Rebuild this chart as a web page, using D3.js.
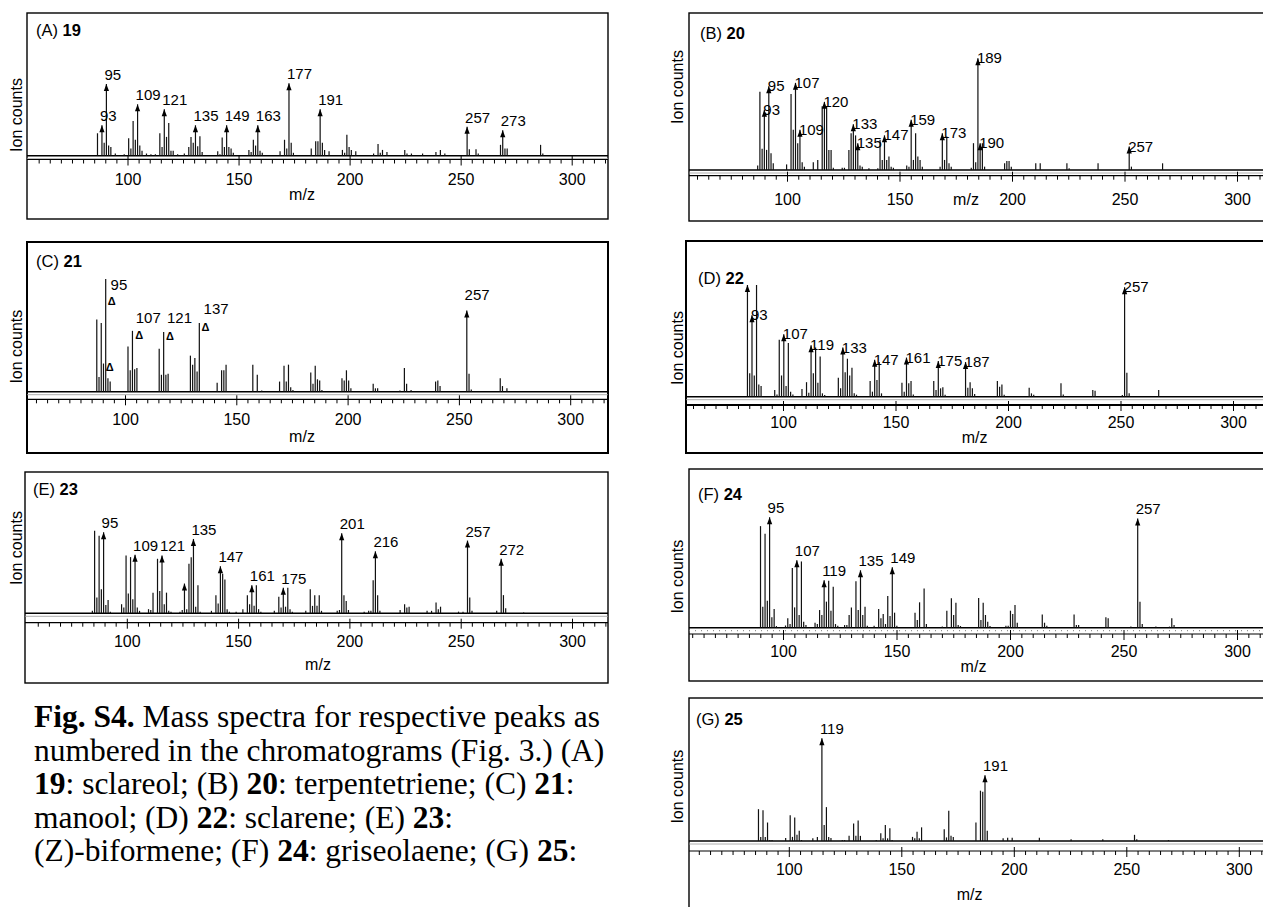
<!DOCTYPE html>
<html>
<head>
<meta charset="utf-8">
<script src="https://cdn.jsdelivr.net/npm/d3@7"></script>
<style>
  body { margin: 0; background: #fff; }
  svg { display: block; }
</style>
</head>
<body>
<div id="chart"></div>
<script>
// ---- data: [m/z, relative intensity %] ----
var peaksA = [[91,31],[93,42],[94,18],[95,99],[96,14],[97,12],[99,3],[103,2],[105,24],[106,10],[107,48],[108,22],[109,71],[110,14],[111,7],[113,3],[115,2],[117,2],[119,31],[120,12],[121,64],[122,26],[123,45],[124,7],[125,7],[127,2],[130,3],[132,12],[133,26],[134,18],[135,42],[136,13],[137,27],[138,5],[145,6],[146,2],[147,25],[148,12],[149,42],[150,12],[151,10],[152,4],[159,8],[160,5],[161,22],[162,14],[163,42],[164,7],[165,4],[173,6],[175,22],[176,10],[177,100],[178,18],[179,4],[187,10],[189,20],[190,20],[191,64],[192,18],[193,8],[195,6],[201,8],[202,4],[203,29],[204,12],[205,8],[207,6],[215,3],[217,16],[218,4],[219,8],[221,5],[229,8],[230,3],[232,3],[237,3],[243,5],[245,8],[247,3],[257,40],[258,9],[261,9],[262,3],[272,15],[273,35],[274,10],[275,10],[290,15],[291,3]];
var arrowsA = [93,95,109,121,135,149,163,177,191,257,273];

var peaksB = [[90,4],[91,70],[92,19],[93,54],[94,18],[95,75],[96,15],[97,6],[103,5],[105,68],[106,36],[107,78],[108,24],[109,36],[110,7],[111,3],[115,7],[117,9],[119,57],[120,61],[121,57],[122,18],[123,18],[124,2],[128,2],[129,2],[131,18],[132,33],[133,41],[134,31],[135,24],[136,4],[137,3],[140,1.5],[144,1.5],[145,27],[146,9],[147,31],[148,9],[149,12],[150,3],[151,2],[157,4],[158,3],[159,45],[160,9],[161,33],[162,12],[163,9],[164,3],[172,3],[173,33],[174,9],[175,30],[176,6],[177,3],[186,2],[187,24],[188,7],[189,100],[190,24],[191,24],[192,3],[201,6],[202,8],[203,8],[204,3],[215,6],[217,6],[229,6],[230,1.5],[243,6],[257,21],[258,3],[272,6]];
var arrowsB = [93,95,107,109,120,133,135,147,159,173,189,190,257];

var peaksC = [[91,64],[92,13],[93,61],[94,25],[95,100],[96,12],[97,9],[105,40],[106,19],[107,54],[108,20],[109,21],[119,38],[120,15],[121,53],[122,15],[123,16],[133,32],[134,24],[135,30],[136,18],[137,61],[145,8],[147,19],[148,19],[149,24],[161,24],[163,15],[165,1],[173,9],[175,23],[176,9],[177,24],[178,4],[179,1.5],[187,17],[188,7],[189,23],[190,11],[191,10],[192,1.5],[201,12],[202,10],[203,19],[204,10],[205,3],[215,7],[216,3],[217,3],[227,1],[229,21],[230,7],[232,1.5],[243,9],[244,10],[245,5],[257,72],[258,16],[259,2],[272,12],[273,5],[275,3]];
var arrowsC = [257];
var notesC = [[97.2,90,'95'],[108.5,61,'107'],[122.5,61,'121'],[138.9,69,'137'],[256,81,'257']];
var deltasC = [[97.7,80],[96.8,22],[110,50],[123.8,49],[139.7,57]];

var peaksD = [[91,100],[92,21],[93,73],[94,19],[95,100],[96,11],[97,9.5],[103,6],[104,2],[105,51],[106,19],[107,56],[108,9.5],[109,48],[110,4.5],[111,2],[115,7],[117,13],[118,3.6],[119,46],[120,21],[121,44],[122,12.5],[123,36],[124,3],[125,1.5],[131,17],[132,7.5],[133,44],[134,22],[135,34],[136,19],[137,26],[138,3],[139,1.8],[145,14],[146,4.5],[147,33],[148,15],[149,31],[150,3],[159,12.5],[160,4.5],[161,35],[162,12],[163,14],[164,2],[173,14],[174,6],[175,32],[176,7.5],[177,8.4],[178,1.8],[187,31],[188,8],[189,13],[190,7.5],[191,2.4],[201,14],[202,9],[203,11],[204,1.8],[215,8],[216,3],[217,1.8],[229,12],[230,2],[243,6],[244,5.4],[256,1.5],[257,98],[258,21.5],[259,3],[272,6]];
var arrowsD = [91,93,107,119,133,147,161,175,187,257];
var silentD = [91];

var peaksE = [[90,3],[91,100],[92,19],[93,94],[94,29],[95,98],[96,10],[97,16],[98,2],[103,11],[104,7],[105,70],[106,24],[107,68],[108,17],[109,71],[110,7],[111,3],[115,5],[116,4],[117,25],[119,66],[120,27],[121,70],[122,11],[123,25],[124,3],[125,2],[129,2],[130,4],[131,36],[132,5],[133,60],[134,68],[135,90],[136,8],[137,34],[138,2],[143,3],[145,22],[146,12],[147,57],[148,48],[149,41],[150,5],[151,2],[154,2],[157,5],[159,22],[160,11],[161,34],[162,9],[163,34],[164,5],[165,2],[171,3],[173,20],[174,7],[175,31],[176,8],[177,31],[178,5],[179,2],[185,3],[187,29],[188,9],[189,22],[190,9],[191,22],[192,3],[199,3],[200,4],[201,97],[202,22],[203,15],[204,4],[211,2],[213,3],[214,3],[215,40],[216,75],[217,22],[218,3],[227,4],[229,11],[230,7],[231,8],[239,3],[241,3],[243,13],[244,5],[245,8],[253,2],[255,2],[257,88],[258,19],[259,3],[270,3],[272,66],[273,22],[274,6],[282,1]];
var arrowsE = [95,109,121,131,135,147,161,175,201,216,257,272];
var silentE = [131];

var peaksF = [[91,92],[92,19],[93,85],[94,24.5],[95,100],[96,9.4],[97,17],[98,1.5],[102,2],[103,8.5],[104,3.3],[105,54],[106,18.4],[107,61],[108,11.5],[109,60],[110,5.4],[111,2.4],[115,4.5],[116,3.3],[117,16],[118,11.5],[119,43],[120,23.6],[121,42.6],[122,15.4],[123,37],[124,3.3],[125,1.8],[128,2.4],[129,2.4],[130,11.5],[131,18.4],[133,42],[134,16],[135,52],[136,11.5],[137,19],[138,1.8],[141,1.8],[143,17],[144,8.5],[145,12.4],[146,3.3],[147,28.7],[148,10.6],[149,54.7],[150,13.6],[151,1.8],[159,13.6],[160,7],[161,23],[163,35.6],[164,3.3],[171,1],[173,15.4],[175,26.6],[176,11.5],[177,22.7],[178,2.4],[179,1.5],[187,27],[188,7],[189,22.7],[190,11.5],[191,5.4],[192,1.5],[199,1.8],[200,1.8],[201,15.4],[202,12.4],[203,20.5],[204,4.5],[215,12],[216,4.5],[217,1.8],[229,12],[230,2.4],[231,2.4],[243,9.4],[244,8.5],[254,1],[257,99],[258,23.6],[259,3.3],[265,1],[271,1],[272,8.5],[273,2.4]];
var arrowsF = [95,107,119,135,149,257];

var peaksG = [[91,31],[92,4],[93,30],[94,4],[95,18],[96,1],[97,1],[103,3],[105,25],[106,4],[107,23],[108,6],[109,10],[110,1],[115,2.6],[117,4],[119,100],[120,15.6],[121,33],[122,4],[123,3],[128,1],[129,1],[131,5],[133,17],[134,5],[135,20],[136,5],[143,1],[145,7.5],[146,2.6],[147,15.6],[148,2.6],[149,12.3],[150,1],[159,4],[160,2.6],[161,9],[162,2.6],[163,13.3],[173,11.4],[174,3.5],[175,29.5],[176,5],[177,4],[187,18],[189,49],[190,48],[191,64],[192,10],[199,2.6],[201,3.2],[203,3.2],[215,3.2],[229,1.6],[243,1.6],[257,6],[258,1.6],[272,1]];
var arrowsG = [119,191];

var tickLabels = [100,150,200,250,300];
var captionLines = [
  [['Fig. S4.', 'b'], [' Mass spectra for respective peaks as', '']],
  [['numbered in the chromatograms (Fig. 3.) (A)', '']],
  [['19', 'b'], [': sclareol; (B) ', ''], ['20', 'b'], [': terpentetriene; (C) ', ''], ['21', 'b'], [':', '']],
  [['manool; (D) ', ''], ['22', 'b'], [': sclarene; (E) ', ''], ['23', 'b'], [':', '']],
  [['(Z)-biformene; (F) ', ''], ['24', 'b'], [': griseolaene; (G) ', ''], ['25', 'b'], [':', '']]
];

// ---- layout ----
var W = 1263, H = 907;
var SANS = 'Liberation Sans, Arial, sans-serif';

var panels = [
  {tag: 'A', num: '19', peaks: peaksA, arrows: arrowsA, style: 'above',
   box: [27, 13, 608, 219], base: 155.7, top: 83.3, axisY: 159.5, tickY: 185,
   ax: [127.5, 571.7], pk: [[95, 106.4], [257, 467.1]],
   title: [36, 36], ion: [16, 115], mz: [302, 200]},
  {tag: 'B', num: '20', peaks: peaksB, arrows: arrowsB, style: 'mid',
   box: [689, 13, 1275, 221], base: 170, top: 58.3, axisY: 175.7, tickY: 205,
   ax: [787, 1237], pk: [[95, 768.8], [257, 1129.2]],
   title: [700, 39], ion: [677, 87], mz: [966, 205]},
  {tag: 'C', num: '21', peaks: peaksC, arrows: arrowsC, style: 'none', bw: 2,
   notes: notesC, deltas: deltasC,
   box: [27, 242, 608, 453], base: 391.7, top: 279, axisY: 399.3, tickY: 425,
   ax: [125, 570.2], pk: [[95, 105.7], [257, 466.8]],
   title: [36, 267], ion: [16, 346.7], mz: [302, 441.7]},
  {tag: 'D', num: '22', peaks: peaksD, arrows: arrowsD, silent: silentD, style: 'mid', bw: 2, aw: 2.2,
   box: [686, 241, 1275, 453], base: 396.7, top: 285, axisY: 405, tickY: 428.3,
   ax: [783, 1233], pk: [[107, 783.8], [257, 1124.6]],
   title: [698, 284], ion: [677, 348], mz: [974.6, 443.3]},
  {tag: 'E', num: '23', peaks: peaksE, arrows: arrowsE, silent: silentE, style: 'above',
   box: [25, 472, 608, 683], base: 613.3, top: 530.7, axisY: 622.7, tickY: 646.7,
   ax: [126.8, 572], pk: [[95, 103.6], [257, 467.5]],
   title: [33, 495], ion: [16, 548], mz: [318, 670]},
  {tag: 'F', num: '24', peaks: peaksF, arrows: arrowsF, style: 'above', dotted: true,
   box: [689, 469, 1275, 681], base: 627.7, top: 517.3, axisY: 634, tickY: 656.7,
   ax: [783, 1237], pk: [[95, 769.6], [257, 1137.7]],
   title: [698, 500], ion: [677, 576.7], mz: [973.5, 671.7]},
  {tag: 'G', num: '25', peaks: peaksG, arrows: arrowsG, style: 'above',
   box: [689, 698, 1275, 920], base: 841, top: 738.3, axisY: 851, tickY: 875,
   ax: [788.8, 1238.8], pk: [[119, 821.9], [191, 985]],
   title: [696, 725], ion: [677, 786.7], mz: [969.6, 900]}
];

var svg = d3.select('#chart').append('svg')
    .attr('width', W)
    .attr('height', H);

svg.append('rect').attr('width', W).attr('height', H).attr('fill', '#fff');

function drawPanel(p) {
    var g = svg.append('g');
    var x = d3.scaleLinear().domain([100, 300]).range(p.ax);
    var xp = d3.scaleLinear().domain([p.pk[0][0], p.pk[1][0]]).range([p.pk[0][1], p.pk[1][1]]);
    var y = d3.scaleLinear().domain([0, 100]).range([p.base, p.top]);
    var x0 = p.box[0], x1 = Math.min(p.box[2], W);
    var lookup = new Map(p.peaks.map(function(d) { return [d[0], d[1]]; }));

    // frame
    g.append('rect')
        .attr('x', p.box[0]).attr('y', p.box[1])
        .attr('width', p.box[2] - p.box[0]).attr('height', p.box[3] - p.box[1])
        .attr('fill', 'none').attr('stroke', '#000').attr('stroke-width', p.bw || 1.4);

    // title "(A) 19"
    var t = g.append('text').attr('x', p.title[0]).attr('y', p.title[1])
        .attr('font-family', SANS).attr('font-size', 16.5);
    t.append('tspan').text('(' + p.tag + ') ');
    t.append('tspan').attr('font-weight', 'bold').text(p.num);

    // y label
    g.append('text')
        .attr('transform', 'translate(' + p.ion[0] + ',' + p.ion[1] + ')rotate(-90)')
        .attr('text-anchor', 'middle').attr('dy', '0.35em')
        .attr('font-family', SANS).attr('font-size', 16)
        .text('Ion counts');

    // spectrum baseline + thin helper line underneath
    g.append('line').attr('x1', x0).attr('x2', x1).attr('y1', p.base).attr('y2', p.base)
        .attr('stroke', '#000').attr('stroke-width', 1.5);
    g.append('line').attr('x1', x0).attr('x2', x1).attr('y1', p.base + 3).attr('y2', p.base + 3)
        .attr('stroke', p.dotted ? '#777' : '#999')
        .attr('stroke-width', p.dotted ? 1 : 0.8)
        .attr('stroke-dasharray', p.dotted ? '1,5' : null);

    // x axis: minor ticks every 5, majors every 50
    var lo = Math.ceil(x.invert(x0 + 2) / 5) * 5, hi = x.invert(x1 - 1);
    var minor = d3.range(lo, hi, 5).filter(function(v) { return v % 50 !== 0; });
    var major = tickLabels.filter(function(v) { return x(v) < x1; });

    g.append('line').attr('x1', x0).attr('x2', x1).attr('y1', p.axisY).attr('y2', p.axisY)
        .attr('stroke', '#000').attr('stroke-width', p.aw || 1.2);

    g.append('g').attr('transform', 'translate(0,' + p.axisY + ')')
        .call(d3.axisBottom(x).tickValues(minor).tickSize(4).tickFormat('').tickSizeOuter(0))
        .call(function(s) { s.select('.domain').remove(); })
        .selectAll('line').attr('stroke', '#000');

    var mg = g.append('g').attr('transform', 'translate(0,' + (p.axisY - 4) + ')')
        .call(d3.axisBottom(x).tickValues(major).tickSize(10).tickSizeOuter(0));
    mg.select('.domain').remove();
    mg.selectAll('line').attr('stroke', '#000');
    mg.selectAll('text')
        .attr('y', p.tickY - p.axisY + 4).attr('dy', 0)
        .attr('font-family', SANS).attr('font-size', 16).attr('fill', '#000');

    g.append('text').attr('x', p.mz[0]).attr('y', p.mz[1])
        .attr('text-anchor', 'middle').attr('font-family', SANS).attr('font-size', 16)
        .text('m/z');

    // peaks
    g.selectAll('line.pk').data(p.peaks).enter().append('line')
        .attr('class', 'pk')
        .attr('x1', function(d) { return xp(d[0]); })
        .attr('x2', function(d) { return xp(d[0]); })
        .attr('y1', p.base)
        .attr('y2', function(d) { return y(d[1]); })
        .attr('stroke', '#111').attr('stroke-width', 1.2);

    // arrow heads on labelled peaks
    var arr = p.arrows.map(function(m) { return [m, lookup.get(m)]; });
    g.selectAll('path.ah').data(arr).enter().append('path')
        .attr('class', 'ah')
        .attr('d', function(d) {
            var cx = xp(d[0]), ty = y(d[1]);
            return 'M' + (cx - 2.6) + ',' + (ty + 7) + 'L' + cx + ',' + ty + 'L' + (cx + 2.6) + ',' + (ty + 7) + 'Z';
        })
        .attr('fill', '#000');

    // arrow labels
    if (p.style !== 'none') {
        var silent = p.silent || [];
        g.selectAll('text.lb').data(arr.filter(function(d) { return silent.indexOf(d[0]) < 0; }))
            .enter().append('text')
            .attr('class', 'lb')
            .attr('x', function(d) { return xp(d[0]) - (p.style === 'mid' ? 1 : 2); })
            .attr('y', function(d) { return y(d[1]) + (p.style === 'mid' ? 5 : -4); })
            .attr('font-family', SANS).attr('font-size', 15)
            .text(function(d) { return d[0]; });
    }

    // free annotations (panel C)
    if (p.notes) {
        g.selectAll('text.nt').data(p.notes).enter().append('text')
            .attr('class', 'nt')
            .attr('x', function(d) { return xp(d[0]); })
            .attr('y', function(d) { return y(d[1]); })
            .attr('font-family', SANS).attr('font-size', 15)
            .text(function(d) { return d[2]; });
    }
    if (p.deltas) {
        g.selectAll('text.dl').data(p.deltas).enter().append('text')
            .attr('class', 'dl')
            .attr('x', function(d) { return xp(d[0]); })
            .attr('y', function(d) { return y(d[1]); })
            .attr('text-anchor', 'middle').attr('dy', '0.35em')
            .attr('font-family', SANS).attr('font-size', 11).attr('font-weight', 'bold')
            .text('\u0394');
    }
}

panels.forEach(drawPanel);

// caption
var cap = svg.append('g');
captionLines.forEach(function(line, i) {
    var t = cap.append('text')
        .attr('x', 34).attr('y', 727 + i * 33.5)
        .attr('font-family', 'Liberation Serif, Times New Roman, serif')
        .attr('font-size', 31.5).attr('fill', '#000');
    line.forEach(function(part) {
        t.append('tspan')
            .attr('font-weight', part[1] === 'b' ? 'bold' : null)
            .text(part[0]);
    });
});
</script>
</body>
</html>
